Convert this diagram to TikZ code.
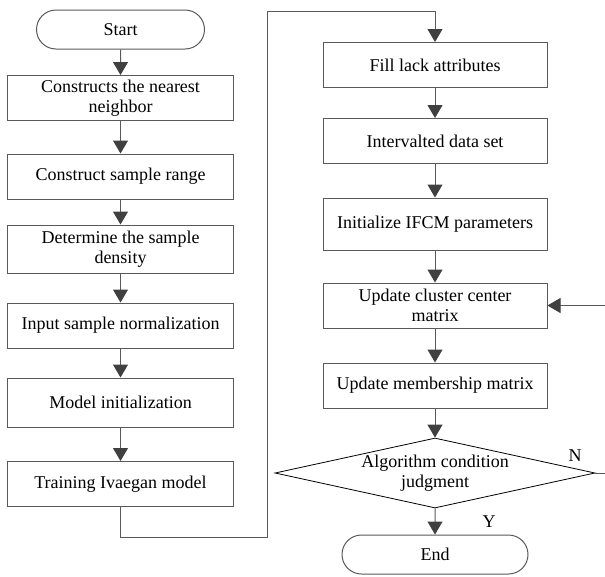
\documentclass[tikz,border=0pt]{standalone}
\usepackage{fontspec}
\setmainfont{Liberation Serif}
\usetikzlibrary{arrows.meta,shapes.geometric,shapes.misc,positioning}

\begin{document}
\begin{tikzpicture}[x=1pt,y=-1pt,
    >={Triangle[length=13pt,width=15pt,color=black!75]},
    font=\fontsize{18}{20}\selectfont,
    flow/.style={->, draw=black!65, line width=1pt},
    procbox/.style={rectangle, draw=black!65, line width=1pt, align=center,
      minimum width=226pt, minimum height=45pt, inner sep=2pt},
    termbox/.style={rounded rectangle, draw=black!65, line width=1pt,
      minimum height=39pt, inner sep=2pt},
    decision/.style={diamond, draw=black, line width=0.8pt, align=center,
      minimum width=320pt, minimum height=70pt, aspect=4.57, inner sep=0pt}]
    \path[use as bounding box, clip] (0,0) rectangle (605,576);
    % left column
    \node[termbox, minimum width=172pt] (start) at (120.5,29.5) {Start};
    \node[procbox] (nearest) at (120.5,98) {Constructs the nearest\\neighbor};
    \node[procbox] (range) at (120.5,176.5) {Construct sample range};
    \node[procbox, minimum height=48pt] (density) at (120.5,249) {Determine the sample\\density};
    \node[procbox] (normal) at (120.5,325.5) {Input sample normalization};
    \node[procbox, minimum height=49pt] (modinit) at (120.5,402.5) {Model initialization};
    \node[procbox] (train) at (120.5,484) {Training Ivaegan model};
    % right column
    \node[procbox, minimum width=224pt] (fill) at (435,65) {Fill lack attributes};
    \node[procbox, minimum width=224pt] (interval) at (435,141) {Intervalted data set};
    \node[procbox, minimum width=224pt, minimum height=52pt] (ifcm) at (435,224) {Initialize IFCM parameters};
    \node[procbox, minimum width=224pt] (center) at (435,305.5) {Update cluster center\\matrix};
    \node[procbox, minimum width=224pt] (member) at (435,385.5) {Update membership matrix};
    \node[decision] (judge) at (435,473) {Algorithm condition\\judgment};
    \node[termbox, minimum width=190pt] (finish) at (435,554.5) {End};
    \node (lblN) at (575,456) {N};
    \node (lblY) at (489,522) {Y};
    % connectors
    \draw[flow] (start) -- (nearest);
    \draw[flow] (nearest) -- (range);
    \draw[flow] (range) -- (density);
    \draw[flow] (density) -- (normal);
    \draw[flow] (normal) -- (modinit);
    \draw[flow] (modinit) -- (train);
    \coordinate (low) at (267,537);
    \coordinate (high) at (267,11.5);
    \draw[flow] (train.south) |- (low) -- (high) -| (fill.north);
    \draw[flow] (fill) -- (interval);
    \draw[flow] (interval) -- (ifcm);
    \draw[flow] (ifcm) -- (center);
    \draw[flow] (center) -- (member);
    \draw[flow] (member) -- (judge);
    \draw[flow] (judge) -- (finish);
    % back to the cluster centre update
    \coordinate (loopB) at (612,473);
    \coordinate (loopT) at (612,305.5);
    \draw[flow] (judge.east) -- (loopB) -- (loopT) -- (center.east);
\end{tikzpicture}
\end{document}
